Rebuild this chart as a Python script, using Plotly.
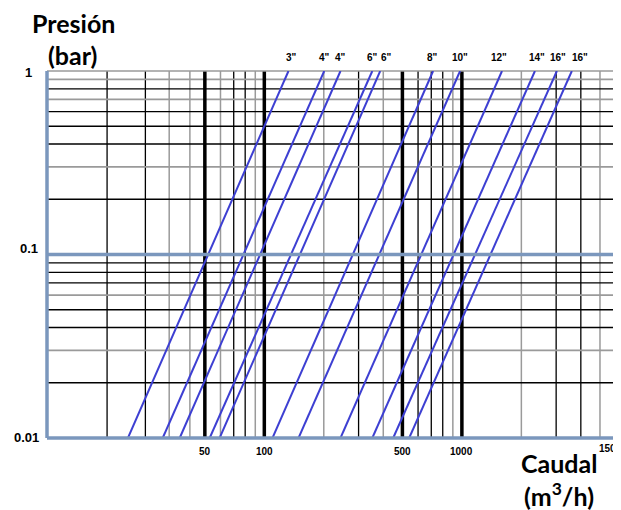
import math
import plotly.graph_objects as go

# ---------------- data ----------------
# caudal (m3/h) at 0.01 bar and at 1 bar for every valve curve
sizes = ['3"', '4"', '4"', '6"', '6"', '8"', '10"', '12"', '14"', '16"', '16"']
q_low = [20.4, 30.6, 37.3, 52.9, 59.4, 110, 149, 243, 352, 449, 541]
q_high = [132.5, 201, 243, 352, 386, 715, 979, 1596, 2343, 3026, 3602]
p_low = 0.01
p_high = 1.0
# label positions (caudal) for the size labels above the chart
label_q = [137, 201, 243, 352, 414, 707, 979, 1541, 2398, 3061, 3954]

x_ticks = [50, 100, 500, 1000]
x_tick_text = ["50", "100", "500", "1000"]
y_ticks = [1, 0.1, 0.01]
y_tick_text = ["1", "0.1", "0.01"]

# vertical grid lines
vgrid_black = [16, 25, 70, 80, 300, 600, 700, 800, 3000, 4000]
vgrid_grey = [33, 42, 60, 90, 200, 400, 900, 2000, 5000]
vgrid_thick = [50, 100, 500, 1000]
# horizontal grid lines
hgrid_black = [0.8, 0.6, 0.5, 0.4, 0.2, 0.09, 0.08, 0.07, 0.05, 0.04, 0.02]
hgrid_grey = [0.9, 0.7, 0.3, 0.06, 0.03]

X_RANGE = [0.9, 3.775]
Y_RANGE = [-2, 0]

# ---------------- layout geometry ----------------
OFF = 8  # default page margin of the html body
W, H = 621 - OFF, 510 - OFF
L, R, T, B = 47 - OFF, 615 - OFF, 71 - OFF, 438 - OFF


def px(xp):
    return (xp - OFF - L) / (R - L)


def py(yp):
    return (B - (yp - OFF)) / (B - T)


BLUE_AX = "#7b97bd"
LINE_BLUE = "#3d3fd2"
GREY = "#9a9a9a"

fig = go.Figure()

for i in range(len(sizes)):
    fig.add_trace(go.Scatter(
        x=[q_low[i], q_high[i]], y=[p_low, p_high], mode="lines",
        line=dict(color=LINE_BLUE, width=2), name=sizes[i],
        showlegend=False, hoverinfo="skip"))

shapes = []
for v in vgrid_grey:
    shapes.append(dict(type="line", xref="x", yref="paper", x0=v, x1=v, y0=0, y1=1,
                       line=dict(color=GREY, width=1.5), layer="below"))
for v in vgrid_black:
    shapes.append(dict(type="line", xref="x", yref="paper", x0=v, x1=v, y0=0, y1=1,
                       line=dict(color="black", width=1.3), layer="below"))
for v in hgrid_grey:
    shapes.append(dict(type="line", xref="paper", yref="y", x0=0, x1=1, y0=v, y1=v,
                       line=dict(color=GREY, width=1.7), layer="below"))
for v in hgrid_black:
    shapes.append(dict(type="line", xref="paper", yref="y", x0=0, x1=1, y0=v, y1=v,
                       line=dict(color="black", width=1.3), layer="below"))
for v in vgrid_thick:
    shapes.append(dict(type="line", xref="x", yref="paper", x0=v, x1=v, y0=0, y1=1,
                       line=dict(color="black", width=3.5), layer="below"))
# top and right borders
shapes.append(dict(type="line", xref="paper", yref="paper", x0=0, x1=1, y0=1, y1=1,
                   line=dict(color=GREY, width=1.7), layer="below"))
shapes.append(dict(type="line", xref="paper", yref="paper", x0=1, x1=1, y0=0, y1=1,
                   line=dict(color="black", width=1.5), layer="below"))
# blue thick lines: 0.1 line, bottom and left borders
shapes.append(dict(type="line", xref="paper", yref="y", x0=0, x1=1, y0=0.1, y1=0.1,
                   line=dict(color=BLUE_AX, width=3.5)))
shapes.append(dict(type="line", xref="paper", yref="paper", x0=0, x1=1, y0=0, y1=0,
                   line=dict(color=BLUE_AX, width=3.5)))
shapes.append(dict(type="line", xref="paper", yref="paper", x0=0, x1=0, y0=0, y1=1,
                   line=dict(color=BLUE_AX, width=3.5)))

ann = []
tick_font = dict(family="Liberation Sans, Arial", size=10, color="black")
for q, s in zip(label_q, sizes):
    ann.append(dict(x=math.log10(q), y=py(57), xref="x", yref="paper", text="<b>%s</b>" % s,
                    showarrow=False, font=tick_font, xanchor="center", yanchor="middle"))
for v, t in zip(x_ticks, x_tick_text):
    ann.append(dict(x=math.log10(v), y=py(451), xref="x", yref="paper", text="<b>%s</b>" % t,
                    showarrow=False, font=tick_font, xanchor="center", yanchor="middle"))
ann.append(dict(x=px(617), y=py(449), xref="paper", yref="paper", text="<b>150</b>",
                showarrow=False, font=tick_font, xanchor="right", yanchor="middle",
                borderpad=0))
y_lab_right = [34, 40, 41]
y_lab_pos = [73, 248, 437]
for v, t, xr, yp in zip(y_ticks, y_tick_text, y_lab_right, y_lab_pos):
    ann.append(dict(x=px(xr), y=py(yp), xref="paper", yref="paper", text="<b>%s</b>" % t,
                    showarrow=False, font=dict(family="Liberation Sans, Arial", size=13, color="black"),
                    xanchor="right", yanchor="middle"))

title_font = dict(family="Lato, Carlito, Calibri", size=25, color="black")
ann.append(dict(x=px(73), y=py(23), xref="paper", yref="paper", text="<b>Presión</b>",
                showarrow=False, font=title_font, xanchor="center", yanchor="middle",
                borderpad=0))
ann.append(dict(x=px(72), y=py(55), xref="paper", yref="paper", text="<b>(bar)</b>",
                showarrow=False, font=title_font, xanchor="center", yanchor="middle"))
ann.append(dict(x=px(559), y=py(463), xref="paper", yref="paper", text="<b>Caudal</b>",
                showarrow=False, font=title_font, xanchor="center", yanchor="middle"))
ann.append(dict(x=px(559), y=py(494), xref="paper", yref="paper", text="<b>(m<sup>3</sup>/h)</b>",
                showarrow=False, font=title_font, xanchor="center", yanchor="middle"))

fig.update_layout(
    width=W, height=H,
    margin=dict(l=L, r=W - R, t=T, b=H - B, pad=0),
    paper_bgcolor="white", plot_bgcolor="white",
    shapes=shapes, annotations=ann, showlegend=False,
    xaxis=dict(type="log", range=X_RANGE, showgrid=False, zeroline=False,
               showticklabels=False, ticks="", showline=False),
    yaxis=dict(type="log", range=Y_RANGE, showgrid=False, zeroline=False,
               showticklabels=False, ticks="", showline=False),
)

fig.write_html("out.html")
